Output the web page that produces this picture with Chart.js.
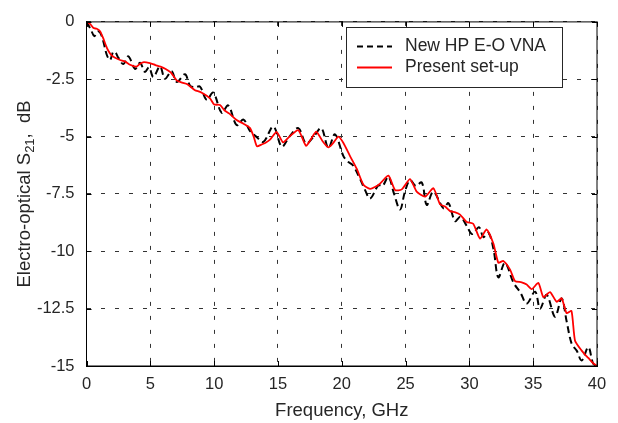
<!DOCTYPE html>
<html>
<head>
<meta charset="utf-8">
<script src="https://cdn.jsdelivr.net/npm/chart.js@4.4.0/dist/chart.umd.min.js"></script>
<style>
  html, body { margin: 0; padding: 0; background: #fff; }
  #grafico { display: block; }
</style>
</head>
<body>
<canvas id="grafico" width="618" height="423"></canvas>
<script>
// datos (GHz, dB)
const freqVna = [0, 0.35, 0.61, 0.9, 1.1, 1.32, 1.58, 1.84, 2.1, 2.3, 2.49, 2.89, 3.28, 3.8, 4.19, 4.58, 4.9,
  5.24, 5.76, 6.15, 6.67, 7.07, 7.72, 8.11, 8.5, 8.89, 9.42, 9.93, 10.59, 11.11, 11.76, 12.3, 12.8, 13.3,
  13.86, 14.64, 15.3, 15.9, 16.6, 17.2, 17.8, 18.4, 18.95, 19.47, 20.13, 20.5, 20.9, 21.43, 21.8, 22.22,
  22.87, 23.2, 23.66, 24.1, 24.57, 24.95, 25.35, 25.8, 26.27, 26.66, 27.18, 27.97, 28.36, 28.88, 29.3,
  29.8, 30.22, 30.75, 31.1, 31.5, 31.9, 32.27, 32.79, 33.45, 34.0, 34.49, 35.15, 35.54, 36.06, 36.71,
  37.23, 37.62, 38.02, 38.41, 38.8, 39.32, 39.7, 40]
const s21Vna = [0, -0.34, -0.62, -0.42, -0.5, -0.85, -1.42, -1.66, -1.3, -1.36, -1.56, -1.84, -1.5, -2.05, -1.78, -2.18, -1.98,
  -2.4, -1.94, -2.48, -2.15, -2.62, -2.28, -2.78, -2.85, -2.82, -3.4, -3.08, -3.96, -3.64, -4.5, -4.26, -4.75, -5.0,
  -5.23, -4.56, -5.44, -5.0, -4.63, -5.3, -5.0, -4.63, -5.5, -4.9, -5.85, -6.1, -6.27, -6.84, -7.3, -7.7,
  -7.12, -7.15, -6.75, -7.5, -8.18, -7.4, -6.9, -7.15, -7.0, -7.98, -7.4, -8.12, -7.9, -8.68, -8.5,
  -8.9, -9.25, -8.95, -9.38, -9.2, -9.94, -11.14, -10.5, -11.36, -11.8, -12.28, -11.76, -12.5, -11.9, -12.85,
  -12.05, -13.05, -14.04, -14.33, -14.76, -14.18, -14.9, -15]

const freqSetup = [0, 0.3, 0.55, 0.8, 1.06, 1.3, 1.5, 1.71, 1.95, 2.2, 2.63, 3.0, 3.41, 3.9, 4.2, 4.5, 4.97,
  5.4, 5.8, 6.2, 6.6, 7.07, 7.5, 7.9, 8.5, 8.9, 9.42, 9.7, 10.0, 10.46, 10.8, 11.2, 11.76, 12.3, 12.8,
  13.1, 13.35, 13.7, 14.0, 14.4, 14.9, 15.4, 15.9, 16.6, 17.2, 17.6, 18.0, 18.5, 18.95, 19.3, 19.74,
  20.13, 20.65, 21.17, 21.7, 22.22, 22.6, 23.0, 23.66, 24.18, 24.7, 25.35, 25.87, 26.53, 27.18, 27.7,
  28.1, 28.49, 28.9, 29.27, 29.79, 30.3, 30.84, 31.35, 31.88, 32.27, 32.66, 33.19, 33.58, 34.1, 34.49,
  34.88, 35.41, 35.8, 36.32, 36.84, 37.23, 37.62, 38.0, 38.28, 38.8, 39.06, 39.32, 39.7, 40]
const s21Setup = [0, -0.1, -0.27, -0.3, -0.41, -0.7, -1.0, -1.26, -1.45, -1.55, -1.66, -1.72, -1.87, -1.95, -1.82, -1.75, -1.8,
  -1.88, -1.95, -2.05, -2.2, -2.55, -2.65, -2.72, -2.98, -3.05, -3.22, -3.35, -3.6, -3.62, -3.85, -4.0, -4.28, -4.44, -4.62,
  -5.0, -5.42, -5.35, -5.28, -5.12, -4.8, -5.25, -5.0, -4.72, -5.4, -5.1, -4.78, -5.2, -5.47, -5.3, -5.0,
  -5.28, -5.85, -6.4, -7.1, -7.28, -7.2, -7.05, -6.7, -7.33, -7.3, -6.85, -7.4, -7.62, -7.25, -7.95,
  -8.05, -8.25, -8.3, -8.4, -8.72, -8.8, -9.45, -9.05, -9.66, -10.5, -10.42, -10.8, -11.3, -11.35, -11.45,
  -11.65, -11.38, -12.0, -11.78, -12.2, -12.05, -12.7, -12.6, -13.9, -14.33, -14.5, -14.65, -14.88, -15.0]

const xTicks = [0, 5, 10, 15, 20, 25, 30, 35, 40]
const yTicks = [0, -2.5, -5, -7.5, -10, -12.5, -15]
const nombresSeries = ['New HP E-O VNA', 'Present set-up']

const gris = '#262626'
const fuente = '"Liberation Sans", Arial, sans-serif'

const marco = {
  id: 'marco',
  afterDraw(chart) {
    const {ctx, chartArea: a} = chart
    const xs = chart.scales.x, ys = chart.scales.y
    ctx.save()
    // caja
    ctx.strokeStyle = '#000'
    ctx.lineWidth = 1
    ctx.setLineDash([])
    ctx.strokeRect(a.left, a.top, a.right - a.left, a.bottom - a.top)
    // marcas hacia dentro
    ctx.beginPath()
    xTicks.forEach(v => {
      const px = Math.round(xs.getPixelForValue(v)) + 0.5
      ctx.moveTo(px, a.bottom); ctx.lineTo(px, a.bottom - 5)
      ctx.moveTo(px, a.top); ctx.lineTo(px, a.top + 5)
    })
    yTicks.forEach(v => {
      const py = Math.round(ys.getPixelForValue(v)) + 0.5
      ctx.moveTo(a.left, py); ctx.lineTo(a.left + 5, py)
      ctx.moveTo(a.right, py); ctx.lineTo(a.right - 5, py)
    })
    ctx.stroke()

    // leyenda
    const lx = 346.5, ly = 27.5, lw = 216, lh = 60
    ctx.fillStyle = '#fff'
    ctx.fillRect(lx, ly, lw, lh)
    ctx.strokeStyle = gris
    ctx.strokeRect(lx, ly, lw, lh)
    const estilos = [
      {color: '#000', dash: [6, 4], y: 46.5},
      {color: '#ff0000', dash: [], y: 67.5}
    ]
    ctx.font = '17.5px ' + fuente
    ctx.textBaseline = 'middle'
    ctx.textAlign = 'left'
    estilos.forEach((e, i) => {
      ctx.strokeStyle = e.color
      ctx.lineWidth = 2
      ctx.setLineDash(e.dash)
      ctx.beginPath()
      ctx.moveTo(357, e.y); ctx.lineTo(392, e.y)
      ctx.stroke()
      ctx.fillStyle = gris
      ctx.fillText(nombresSeries[i], 405, e.y)
    })
    ctx.setLineDash([])

    // titulo eje y con subindice
    ctx.translate(25, (a.top + a.bottom) / 2)
    ctx.rotate(-Math.PI / 2)
    const p1 = 'Electro-optical S', p2 = '21', p3 = ',  dB'
    ctx.font = '18.5px ' + fuente
    const w1 = ctx.measureText(p1).width, w3 = ctx.measureText(p3).width
    ctx.font = '13px ' + fuente
    const w2 = ctx.measureText(p2).width
    let x0 = -(w1 + w2 + w3) / 2
    ctx.fillStyle = gris
    ctx.textAlign = 'left'
    ctx.textBaseline = 'middle'
    ctx.font = '18.5px ' + fuente
    ctx.fillText(p1, x0, 0)
    ctx.font = '13px ' + fuente
    ctx.fillText(p2, x0 + w1, 5)
    ctx.font = '18.5px ' + fuente
    ctx.fillText(p3, x0 + w1 + w2, 0)
    ctx.restore()
  }
}

const data = {
  datasets: [{
    label: nombresSeries[0],
    data: freqVna.map((f, i) => ({x: f, y: s21Vna[i]})),
    borderColor: '#000',
    borderWidth: 2,
    borderDash: [7, 4],
    pointRadius: 0,
    tension: 0.35,
    fill: false,
    order: 2
  }, {
    label: nombresSeries[1],
    data: freqSetup.map((f, i) => ({x: f, y: s21Setup[i]})),
    borderColor: '#ff0000',
    borderWidth: 1.8,
    pointRadius: 0,
    tension: 0.2,
    fill: false,
    order: 1
  }]
}

const config = {
  type: 'line',
  data,
  options: {
    responsive: false,
    animation: false,
    layout: {padding: {left: 0, top: 12, right: 21, bottom: 0}},
    plugins: {legend: {display: false}, tooltip: {enabled: false}},
    scales: {
      x: {
        type: 'linear',
        min: 0, max: 40,
        afterBuildTicks: s => { s.ticks = xTicks.map(v => ({value: v})) },
        afterFit: s => { s.height = 57 },
        grid: {color: '#333', lineWidth: 1, drawTicks: false},
        border: {display: true, color: '#000', width: 1, dash: [4, 10]},
        ticks: {color: gris, font: {family: fuente, size: 16.5}, padding: 9, maxRotation: 0,
          callback: v => String(v)},
        title: {display: true, text: 'Frequency, GHz', color: gris,
          font: {family: fuente, size: 18.5}, padding: {top: 0, bottom: 1}}
      },
      y: {
        type: 'linear',
        min: -15, max: 0,
        afterBuildTicks: s => { s.ticks = yTicks.map(v => ({value: v})) },
        afterFit: s => { s.width = 86.5 },
        grid: {color: '#333', lineWidth: 1, drawTicks: false},
        border: {display: true, color: '#000', width: 1, dash: [4, 10]},
        ticks: {color: gris, font: {family: fuente, size: 16.5}, padding: 12,
          callback: v => String(v)}
      }
    }
  },
  plugins: [marco]
}

document.addEventListener('DOMContentLoaded', () => {
  const chart1 = new Chart(document.getElementById('grafico'), config)
})
</script>
</body>
</html>
